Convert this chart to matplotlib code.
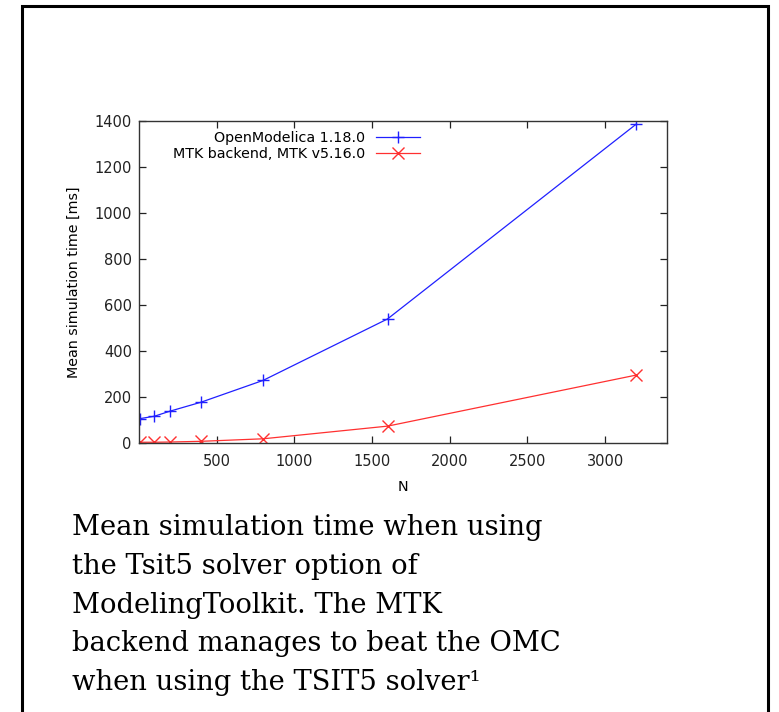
import matplotlib
matplotlib.use("Agg")
import matplotlib.pyplot as plt
from matplotlib.patches import Rectangle

# problem size N and mean simulation times [ms]
n_values = [10, 100, 200, 400, 800, 1600, 3200]
omc_times = [105, 115, 137, 176, 271, 538, 1385]
mtk_times = [2, 2, 3, 6, 17, 72, 294]

labels = ["OpenModelica 1.18.0", "MTK backend, MTK v5.16.0"]
x_ticks = [500, 1000, 1500, 2000, 2500, 3000]
y_ticks = [0, 200, 400, 600, 800, 1000, 1200, 1400]

caption = [
    "Mean simulation time when using",
    "the Tsit5 solver option of",
    "ModelingToolkit. The MTK",
    "backend manages to beat the OMC",
    "when using the TSIT5 solver\u00b9",
]

W, H = 779, 712
fig = plt.figure(figsize=(W / 100, H / 100), dpi=100)
plt.rcParams["font.family"] = "DejaVu Sans"

# slide frame (open at the bottom, cut by the image edge)
frame = Rectangle((22 / W, -0.05), (767.5 - 22) / W, 1.05 - 5.5 / H,
                  transform=fig.transFigure, fill=False, ec="black",
                  lw=2.2, clip_on=False)
fig.patches.append(frame)

ax = fig.add_axes([138.8 / W, 1 - 442.7 / H, (667.3 - 138.8) / W,
                   (442.7 - 120.7) / H])

ax.plot(n_values, omc_times, color="#2020ff", lw=0.9, marker="+",
        ms=8, mew=1.0, label=labels[0])
ax.plot(n_values, mtk_times, color="#ff3030", lw=0.9, marker="x",
        ms=8.5, mew=1.0, label=labels[1])

ax.set_xlim(0, 3400)
ax.set_ylim(0, 1400)
ax.set_xticks(x_ticks)
ax.set_yticks(y_ticks)
ax.tick_params(direction="in", top=True, right=True, length=5, width=0.9,
               labelsize=10.5, colors="#222222", pad=5)
ax.tick_params(axis="x", pad=8)
for sp in ax.spines.values():
    sp.set_color("#333333")
    sp.set_linewidth(1.0)

ax.set_xlabel("N", fontsize=10.3, labelpad=8)
ax.set_ylabel("Mean simulation time [ms]", fontsize=10.3, labelpad=10)

ax.legend(loc="upper right", bbox_to_anchor=(430 / W, 1 - 121 / H),
          bbox_transform=fig.transFigure, frameon=False, markerfirst=False,
          fontsize=10.3, handlelength=3.1, handletextpad=0.7,
          labelspacing=0.15, borderpad=0.2)

for i, line in enumerate(caption):
    fig.text(72 / W, 1 - (535 + i * 38.8) / H, line,
             family="DejaVu Serif", fontsize=19.7, va="baseline",
             ha="left", color="black")

fig.savefig("out.png", dpi=100)
